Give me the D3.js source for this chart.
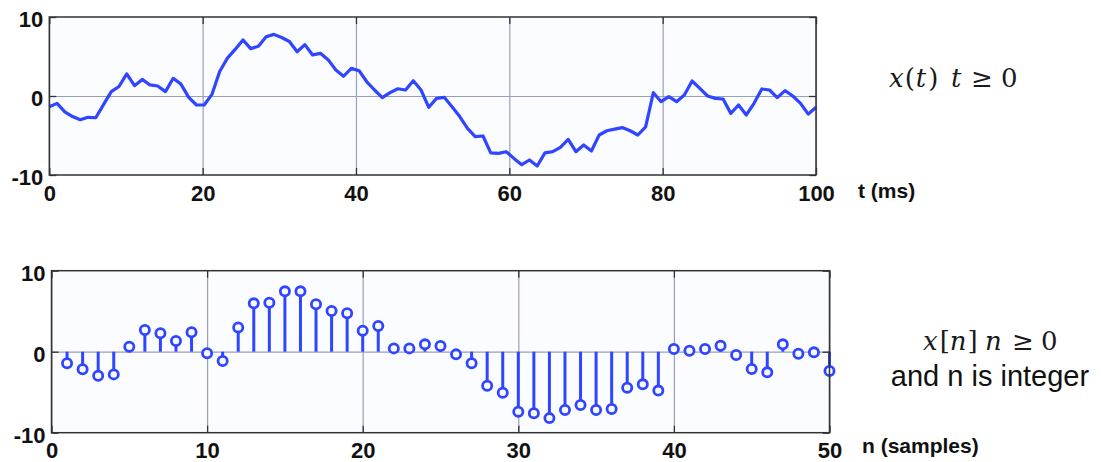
<!DOCTYPE html>
<html>
<head>
<meta charset="utf-8">
<script src="https://cdn.jsdelivr.net/npm/d3@7"></script>
<style>
  html, body { margin: 0; padding: 0; background: #ffffff; }
  svg { display: block; }
  .tick text { font-family: "Liberation Sans", Arial, Helvetica, sans-serif; font-weight: bold; font-size: 22px; fill: #111; }
</style>
</head>
<body>
<svg id="chart" width="1101" height="462"></svg>
<script>
// Continuous signal x(t): 100 samples spread evenly over 0–100 ms
const xt = [
  -1.35, -0.93, -2.0, -2.6, -3.0, -2.7, -2.75, -1.1, 0.55, 1.2,
  2.8, 1.3, 2.1, 1.4, 1.27, 0.55, 2.24, 1.5, -0.17, -1.14,
  -1.14, 0.2, 3.1, 4.8, 5.9, 7.1, 6.0, 6.3, 7.5, 7.8,
  7.4, 6.9, 5.6, 6.5, 5.2, 5.4, 4.6, 3.3, 2.5, 3.5,
  3.2, 1.8, 0.76, -0.2, 0.42, 0.92, 0.76, 1.94, 0.76, -1.43,
  -0.3, -0.17, -1.35, -2.6, -4.1, -5.15, -5.06, -7.2, -7.26, -7.05,
  -7.9, -8.7, -8.1, -8.86, -7.2, -7.05, -6.5, -5.5, -7.05, -6.2,
  -6.96, -4.94, -4.4, -4.2, -4.0, -4.4, -4.94, -3.9, 0.42, -0.72,
  -0.08, -0.72, 0.13, 1.9, 0.97, 0.0, -0.3, -0.38, -2.2, -1.14,
  -2.4, -0.93, 0.89, 0.76, -0.2, 0.68, 0.0, -0.93, -2.3, -1.43
];

// Discrete signal x[n], n = 1..50
const nSamples = d3.range(1, 51);
const xn = [
  -1.43, -2.17, -2.96, -2.8, 0.62, 2.68, 2.27, 1.32, 2.4, -0.2,
  -1.15, 3.0, 5.97, 6.05, 7.45, 7.45, 5.85, 5.02, 4.74, 2.6,
  3.17, 0.41, 0.41, 0.91, 0.7, -0.33, -1.43, -4.2, -5.06, -7.4,
  -7.6, -8.2, -7.2, -6.58, -7.2, -7.07, -4.44, -4.03, -4.8, 0.33,
  0.12, 0.33, 0.74, -0.41, -2.14, -2.55, 0.91, -0.25, -0.08, -2.38
];

// Tick labels
const tTicks = [0, 20, 40, 60, 80, 100];
const nTicks = [0, 10, 20, 30, 40, 50];
const yTicks = [-10, 0, 10];

const BLUE = "#2f45ff";
const GRID = "#98a0b8";
const FRAME = "#333333";
const PLOT_BG = "#fbfcff";
const TICK_LEN = 7;
const plain = d => String(d);   // keep an ASCII hyphen for negatives

const svg = d3.select("#chart");

// Draws one MATLAB-style axes box and returns its scales
function drawPanel(box, xDomain, xTicks) {
  const w = box.right - box.left, h = box.bottom - box.top;
  const x = d3.scaleLinear().domain(xDomain).range([box.left, box.right]);
  const y = d3.scaleLinear().domain([-10, 10]).range([box.bottom, box.top]);
  const g = svg.append("g");

  g.append("rect")
    .attr("x", box.left).attr("y", box.top)
    .attr("width", w).attr("height", h)
    .attr("fill", PLOT_BG);

  // grid lines: vertical at x ticks, horizontal at zero
  const gx = g.append("g")
    .attr("transform", `translate(0,${box.bottom})`)
    .call(d3.axisBottom(x).tickValues(xTicks).tickSize(-h).tickFormat(""));
  gx.select(".domain").remove();
  gx.selectAll("line").attr("stroke", GRID).attr("stroke-width", 1.2);

  const gy = g.append("g")
    .attr("transform", `translate(${box.left},0)`)
    .call(d3.axisLeft(y).tickValues([0]).tickSize(-w).tickFormat(""));
  gy.select(".domain").remove();
  gy.selectAll("line").attr("stroke", GRID).attr("stroke-width", 1.2);

  const layer = g.append("g");

  // frame and inward ticks on all four sides
  const frame = g.append("g");
  frame.append("rect")
    .attr("x", box.left).attr("y", box.top)
    .attr("width", w).attr("height", h)
    .attr("fill", "none").attr("stroke", FRAME).attr("stroke-width", 1.5);

  const axB = frame.append("g").attr("transform", `translate(0,${box.bottom})`)
    .call(d3.axisBottom(x).tickValues(xTicks).tickSize(-TICK_LEN).tickPadding(10).tickFormat(plain));
  const axT = frame.append("g").attr("transform", `translate(0,${box.top})`)
    .call(d3.axisTop(x).tickValues(xTicks).tickSize(-TICK_LEN).tickFormat(""));
  const axL = frame.append("g").attr("transform", `translate(${box.left},0)`)
    .call(d3.axisLeft(y).tickValues(yTicks).tickSize(-TICK_LEN).tickPadding(6).tickFormat(plain));
  const axR = frame.append("g").attr("transform", `translate(${box.right},0)`)
    .call(d3.axisRight(y).tickValues(yTicks).tickSize(-TICK_LEN).tickFormat(""));
  [axB, axT, axL, axR].forEach(a => {
    a.select(".domain").remove();
    a.selectAll("line").attr("stroke", FRAME).attr("stroke-width", 1.3);
  });
  axL.selectAll("text").attr("dy", "0.43em");

  return { x, y, layer };
}

// ---- Upper panel: continuous-time signal ----
const upper = drawPanel({ left: 49.3, right: 816, top: 17, bottom: 175 }, [0, 100], tTicks);
const tOf = d3.scaleLinear().domain([0, xt.length - 1]).range([0, 100]);
upper.layer.append("path")
  .datum(xt)
  .attr("fill", "none")
  .attr("stroke", BLUE)
  .attr("stroke-width", 3.2)
  .attr("stroke-linejoin", "round")
  .attr("d", d3.line().x((d, i) => upper.x(tOf(i))).y(d => upper.y(d)));

// ---- Lower panel: discrete-time signal (stem plot) ----
const lower = drawPanel({ left: 51.5, right: 829.5, top: 270.7, bottom: 432.7 }, [0, 50], nTicks);
const stems = lower.layer.selectAll("g.stem")
  .data(nSamples.map((n, i) => ({ n, v: xn[i] })))
  .join("g").attr("class", "stem");
stems.append("line")
  .attr("x1", d => lower.x(d.n)).attr("x2", d => lower.x(d.n))
  .attr("y1", lower.y(0)).attr("y2", d => lower.y(d.v))
  .attr("stroke", BLUE).attr("stroke-width", 3);
stems.append("circle")
  .attr("cx", d => lower.x(d.n)).attr("cy", d => lower.y(d.v))
  .attr("r", 4.6)
  .attr("fill", PLOT_BG)
  .attr("stroke", BLUE).attr("stroke-width", 2.8);

// ---- Axis titles ----
const sans = "'Liberation Sans', Arial, Helvetica, sans-serif";
svg.append("text").attr("x", 858).attr("y", 198)
  .attr("font-family", sans).attr("font-weight", "bold").attr("font-size", 21)
  .attr("fill", "#111").text("t (ms)");
svg.append("text").attr("x", 862).attr("y", 453)
  .attr("font-family", sans).attr("font-weight", "bold").attr("font-size", 21)
  .attr("fill", "#111").text("n (samples)");

// ---- Math annotations ----
const serif = "'DejaVu Serif', 'Liberation Serif', serif";
// parts without an x flow on from the previous glyph
function mathLine(parts, baseline) {
  const t = svg.append("text")
    .attr("y", baseline)
    .attr("font-family", serif).attr("font-size", 26).attr("fill", "#1a1a1a");
  parts.forEach(p => {
    const s = t.append("tspan")
      .attr("font-style", p.it ? "italic" : "normal")
      .text(p.s);
    if (p.x != null) s.attr("x", p.x);
    if (p.dx != null) s.attr("dx", p.dx);
  });
}
mathLine([
  { s: "x", it: true, x: 889 },
  { s: "(", dx: 1 },
  { s: "t", it: true, dx: 1 },
  { s: ")", dx: 2 },
  { s: "t", it: true, x: 951 },
  { s: "≥", x: 971 },
  { s: "0", x: 1001 }
], 87);
mathLine([
  { s: "x", it: true, x: 923 },
  { s: "[", dx: 2 },
  { s: "n", it: true, dx: 0 },
  { s: "]", dx: 1 },
  { s: "n", it: true, x: 985 },
  { s: "≥", x: 1012 },
  { s: "0", x: 1041 }
], 350);

svg.append("text").attr("x", 990).attr("y", 386)
  .attr("text-anchor", "middle")
  .attr("font-family", sans).attr("font-size", 29)
  .attr("fill", "#111").text("and n is integer");
</script>
</body>
</html>
